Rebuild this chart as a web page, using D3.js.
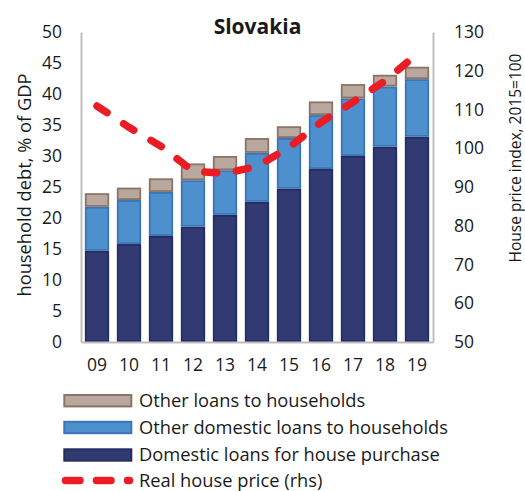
<!DOCTYPE html>
<html>
<head>
<meta charset="utf-8">
<script src="https://cdn.jsdelivr.net/npm/d3@7/dist/d3.min.js"></script>
<style>
  html, body { margin: 0; padding: 0; background: #fff; }
  svg { display: block; font-family: "Open Sans", Lato, sans-serif; }
</style>
</head>
<body>
<svg id="chart" width="525" height="491"></svg>
<script>
// Household debt in Slovakia (% of GDP) and real house prices (2015=100)
const years = ["09", "10", "11", "12", "13", "14", "15", "16", "17", "18", "19"];
const housePurchase = [14.7, 15.8, 17.1, 18.6, 20.5, 22.6, 24.7, 27.9, 30.0, 31.5, 33.1];
const otherDomestic = [7.1, 7.1, 7.1, 7.5, 7.2, 7.9, 8.2, 8.7, 9.3, 9.7, 9.3];
const otherLoans = [2.2, 2.0, 2.2, 2.7, 2.3, 2.4, 1.9, 2.2, 2.3, 1.9, 2.0];
const housePrice = [110.9, 105.4, 100.5, 94.1, 93.5, 95.3, 100.2, 106.7, 111.9, 117.4, 124.3];
const leftTicks = [0, 5, 10, 15, 20, 25, 30, 35, 40, 45, 50];
const rightTicks = [50, 60, 70, 80, 90, 100, 110, 120, 130];

const seriesNames = ["Domestic loans for house purchase", "Other domestic loans to households", "Other loans to households"];
const fills = ["#323a73", "#4e8fcd", "#b8a89e"];
const strokes = ["#262c5c", "#3b75bb", "#8b7366"];
const lineColor = "#ec1c24";
const textColor = "#1a1a1a";
const font = "'Open Sans', Lato, sans-serif";

const svg = d3.select("#chart");
const plot = { left: 81, right: 433, top: 32, bottom: 342 };

const x = d3.scaleBand().domain(years).range([plot.left, plot.right]).paddingInner(0.24).paddingOuter(0.12);
const yL = d3.scaleLinear().domain([0, 50]).range([plot.bottom, plot.top]);
const yR = d3.scaleLinear().domain([50, 130]).range([plot.bottom, plot.top]);

// stacked data
const rows = years.map((yr, i) => ({ year: yr, s0: housePurchase[i], s1: otherDomestic[i], s2: otherLoans[i] }));
const stack = d3.stack().keys(["s0", "s1", "s2"])(rows);

// bars
svg.append("g").selectAll("g").data(stack).join("g")
  .attr("fill", (d, i) => fills[i])
  .attr("stroke", (d, i) => strokes[i])
  .attr("stroke-width", 1.8)
  .selectAll("rect").data(d => d).join("rect")
  .attr("x", d => x(d.data.year) + 0.9)
  .attr("width", x.bandwidth() - 1.8)
  .attr("y", d => yL(d[1]) + 0.9)
  .attr("height", d => Math.max(0, yL(d[0]) - yL(d[1]) - 1.8));

// axes
const axisColor = "#bfbfbf";
const gL = svg.append("g").attr("transform", `translate(${plot.left},0)`)
  .call(d3.axisLeft(yL).tickValues(leftTicks).tickSize(0).tickPadding(19));
const gR = svg.append("g").attr("transform", `translate(${plot.right},0)`)
  .call(d3.axisRight(yR).tickValues(rightTicks).tickSize(0).tickPadding(21));
const gB = svg.append("g").attr("transform", `translate(0,${plot.bottom})`)
  .call(d3.axisBottom(x).tickSize(0).tickPadding(14));
[gL, gR, gB].forEach(g => {
  g.select(".domain").attr("stroke", axisColor).attr("stroke-width", 2);
  g.selectAll("text").attr("font-size", 17.5).attr("fill", textColor).attr("font-family", font);
});
gB.selectAll("text").attr("dy", "0.85em");

// house price line
const line = d3.line().x((d, i) => x(years[i]) + x.bandwidth() / 2).y(d => yR(d));
svg.append("path").datum(housePrice)
  .attr("d", line)
  .attr("fill", "none")
  .attr("stroke", lineColor)
  .attr("stroke-width", 7.5)
  .attr("stroke-linecap", "round")
  .attr("stroke-dasharray", "12,20");

// title
svg.append("text").attr("x", 257.5).attr("y", 33.5).attr("text-anchor", "middle")
  .attr("font-size", 21).attr("font-weight", "bold").attr("fill", textColor).text("Slovakia");

// axis titles
svg.append("text").attr("transform", "translate(31,185) rotate(-90)")
  .attr("text-anchor", "middle").attr("font-size", 18.3).attr("fill", textColor)
  .text("household debt, % of GDP");
svg.append("text").attr("transform", "translate(520.5,158) rotate(-90)")
  .attr("text-anchor", "middle").attr("font-size", 15.5).attr("fill", textColor)
  .text("House price index, 2015=100");

// legend
const legendItems = [
  { name: seriesNames[2], idx: 2 },
  { name: seriesNames[1], idx: 1 },
  { name: seriesNames[0], idx: 0 }
];
const rowY = [400.7, 427.5, 455, 480.5];
const lg = svg.append("g");
legendItems.forEach((it, k) => {
  const cy = rowY[k];
  lg.append("rect").attr("x", 64.3).attr("y", cy - 5.7).attr("width", 67).attr("height", 11.4)
    .attr("fill", fills[it.idx]).attr("stroke", strokes[it.idx]).attr("stroke-width", 2);
  lg.append("text").attr("x", 139).attr("y", cy).attr("dy", "0.35em")
    .attr("font-size", 18.3).attr("fill", textColor).text(it.name);
});
const ly = rowY[3];
lg.append("line").attr("x1", 65.5).attr("x2", 129.5).attr("y1", ly).attr("y2", ly)
  .attr("stroke", lineColor).attr("stroke-width", 7.5).attr("stroke-linecap", "round")
  .attr("stroke-dasharray", "14.5,16.5");
lg.append("text").attr("x", 139).attr("y", ly).attr("dy", "0.35em")
  .attr("font-size", 18.3).attr("fill", textColor).text("Real house price (rhs)");
</script>
</body>
</html>
